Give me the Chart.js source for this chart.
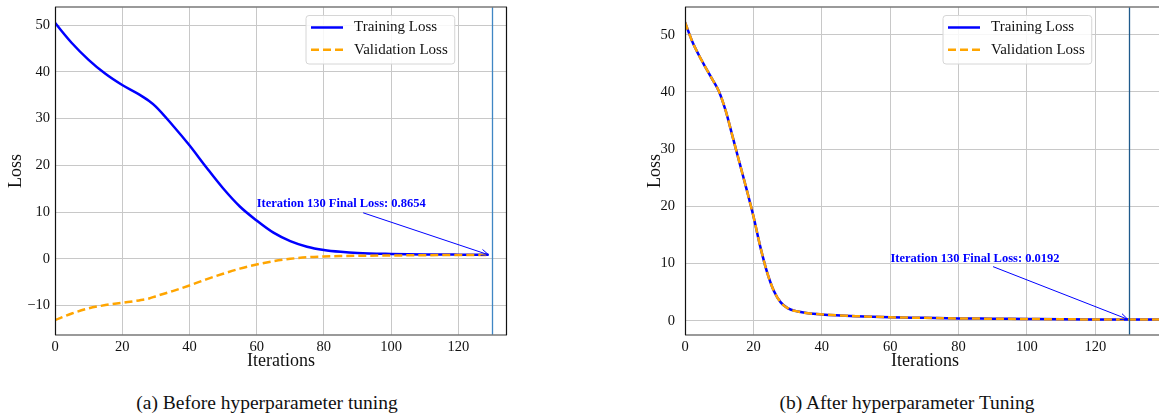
<!DOCTYPE html>
<html>
<head>
<meta charset="utf-8">
<script src="https://cdn.jsdelivr.net/npm/chart.js@4.4.0/dist/chart.umd.min.js"></script>
<style>
  body { margin: 0; width: 1159px; height: 418px; overflow: hidden; background: #fff; position: relative; font-family: 'Liberation Serif', serif; }
  canvas { display: block; }
  #wrapA { position: absolute; left: 0; top: 0; }
  #wrapB { position: absolute; left: 620px; top: 0; }
  .caption { position: absolute; top: 392px; font-size: 19.5px; line-height: 22px; color: #111; white-space: nowrap; transform: translateX(-50%); }
</style>
</head>
<body>
<div id="wrapA"><canvas id="chartA" width="540" height="380"></canvas></div>
<div id="wrapB"><canvas id="chartB" width="560" height="380"></canvas></div>
<div class="caption" style="left:267px">(a) Before hyperparameter tuning</div>
<div class="caption" style="left:907px">(b) After hyperparameter Tuning</div>
<script>
// (a) before tuning
const itersA = [0, 5, 10, 15, 20, 25, 28, 30, 35, 40, 45, 50, 55, 60, 65, 70, 75, 80, 85, 90, 100, 110, 120, 129];
const trainA = [50.5, 46.2, 42.6, 39.6, 37.2, 35.2, 33.8, 32.6, 28.6, 24.3, 19.6, 15.1, 11.2, 8.2, 5.6, 3.8, 2.6, 1.9, 1.5, 1.25, 1.05, 0.95, 0.9, 0.87];
const valA = [-13.1, -11.7, -10.6, -9.9, -9.4, -8.9, -8.5, -8.0, -6.9, -5.7, -4.4, -3.2, -2.1, -1.2, -0.5, 0.0, 0.35, 0.5, 0.6, 0.65, 0.72, 0.78, 0.82, 0.85];

// (b) after tuning
const itersB = [0, 2, 4, 6, 8, 10, 12, 14, 16, 18, 20, 22, 24, 26, 28, 30, 33, 36, 40, 50, 60, 70, 80, 90, 100, 110, 120, 130, 140];
const trainB = [52.2, 49, 46.5, 44.3, 42.2, 40, 36.5, 32, 27.5, 23, 18.3, 13, 8.5, 5.2, 3.2, 2.2, 1.6, 1.3, 1.1, 0.8, 0.6, 0.5, 0.4, 0.35, 0.3, 0.25, 0.22, 0.2, 0.19];
const valB = [52.2, 49, 46.5, 44.3, 42.2, 40, 36.5, 32, 27.5, 23, 18.3, 13, 8.5, 5.2, 3.2, 2.2, 1.6, 1.3, 1.1, 0.8, 0.6, 0.5, 0.4, 0.35, 0.3, 0.25, 0.22, 0.2, 0.19];

const xTicks = [0, 20, 40, 60, 80, 100, 120];
const yTicksA = [-10, 0, 10, 20, 30, 40, 50];
const yTicksB = [0, 10, 20, 30, 40, 50];
const finalIter = 130;
const noteA = 'Iteration 130 Final Loss: 0.8654';
const noteB = 'Iteration 130 Final Loss: 0.0192';

const FONT = "'Liberation Serif', 'Times New Roman', serif";

function pts(xs, ys) {
    return xs.map((x, i) => ({ x: x, y: ys[i] }));
}

// frame, vertical marker, annotation arrow and the legend box
const decor = {
    id: 'decor',
    afterDatasetsDraw(chart, args, o) {
        const { ctx, chartArea: a, scales } = chart;
        const sx = scales.x, sy = scales.y;
        ctx.save();

        // vertical line at final iteration
        const vx = Math.round(sx.getPixelForValue(finalIter)) + 0.5;
        ctx.strokeStyle = o.vlineColor;
        ctx.lineWidth = 1.3;
        ctx.beginPath();
        ctx.moveTo(vx, a.top);
        ctx.lineTo(vx, a.bottom);
        ctx.stroke();

        // annotation text + arrow
        ctx.fillStyle = '#0000ff';
        ctx.font = 'bold 12.5px ' + FONT;
        ctx.textBaseline = 'middle';
        ctx.textAlign = 'left';
        ctx.fillText(o.note, sx.getPixelForValue(o.noteAt[0]), sy.getPixelForValue(o.noteAt[1]));
        const x1 = sx.getPixelForValue(o.arrow[0]), y1 = sy.getPixelForValue(o.arrow[1]);
        const x2 = sx.getPixelForValue(o.arrow[2]), y2 = sy.getPixelForValue(o.arrow[3]);
        ctx.strokeStyle = '#0000ff';
        ctx.lineWidth = 1;
        ctx.beginPath();
        ctx.moveTo(x1, y1);
        ctx.lineTo(x2, y2);
        const ang = Math.atan2(y2 - y1, x2 - x1);
        const hl = 8;
        ctx.moveTo(x2 - hl * Math.cos(ang - 0.4), y2 - hl * Math.sin(ang - 0.4));
        ctx.lineTo(x2, y2);
        ctx.lineTo(x2 - hl * Math.cos(ang + 0.4), y2 - hl * Math.sin(ang + 0.4));
        ctx.stroke();

        // frame
        ctx.lineWidth = 1.6;
        ctx.strokeStyle = '#7a7a7a';
        ctx.beginPath();
        ctx.moveTo(a.left, a.top); ctx.lineTo(a.right, a.top);
        ctx.moveTo(a.left, a.bottom); ctx.lineTo(a.right, a.bottom);
        ctx.stroke();
        ctx.lineWidth = 1.2;
        ctx.strokeStyle = '#111';
        ctx.beginPath();
        ctx.moveTo(a.left + 0.5, a.top); ctx.lineTo(a.left + 0.5, a.bottom);
        ctx.moveTo(a.right - 0.5, a.top); ctx.lineTo(a.right - 0.5, a.bottom);
        ctx.stroke();

        // legend
        ctx.font = '15px ' + FONT;
        const sets = chart.data.datasets.slice(0, 2);
        const tw = Math.max(...sets.map(d => ctx.measureText(d.label).width));
        const bx = a.left + o.legendLeft, by = a.top + 8.5;
        const bw = 48 + tw + 7, bh = 48.5;
        ctx.fillStyle = 'rgba(255,255,255,0.85)';
        ctx.strokeStyle = '#d6d6d6';
        ctx.lineWidth = 1;
        ctx.beginPath();
        ctx.roundRect(bx, by, bw, bh, 3);
        ctx.fill();
        ctx.stroke();
        sets.forEach((d, i) => {
            const ly = by + 12 + i * 22.3;
            ctx.strokeStyle = d.borderColor;
            ctx.lineWidth = d.borderWidth;
            ctx.setLineDash(d.borderDash || []);
            ctx.beginPath();
            ctx.moveTo(bx + 5, ly);
            ctx.lineTo(bx + 37, ly);
            ctx.stroke();
            ctx.setLineDash([]);
            ctx.fillStyle = '#111';
            ctx.textBaseline = 'middle';
            ctx.fillText(d.label, bx + 48, ly);
        });
        ctx.restore();
    }
};

function makeChart(canvasId, iters, train, val, cfg) {
    return new Chart(document.getElementById(canvasId), {
        type: 'line',
        data: {
            datasets: [
                {
                    label: 'Training Loss',
                    data: pts(iters, train),
                    borderColor: '#0000ff',
                    borderWidth: 2.5,
                    pointRadius: 0,
                    cubicInterpolationMode: 'monotone',
                    order: 2
                },
                {
                    label: 'Validation Loss',
                    data: pts(iters, val),
                    borderColor: '#ffa500',
                    borderWidth: 2.5,
                    borderDash: [8, 4],
                    pointRadius: 0,
                    cubicInterpolationMode: 'monotone',
                    order: 1
                }
            ]
        },
        options: {
            responsive: false,
            animation: false,
            layout: { padding: { top: 7, right: cfg.padRight, bottom: 0, left: 0 } },
            plugins: {
                legend: { display: false },
                tooltip: { enabled: false },
                decor: cfg.decor
            },
            scales: {
                x: {
                    type: 'linear',
                    min: 0,
                    max: cfg.xMax,
                    afterBuildTicks: s => { s.ticks = xTicks.map(v => ({ value: v })); },
                    afterFit: s => { s.height = 45; s.paddingLeft = 0; s.paddingRight = 0; },
                    grid: { color: '#c8c8c8', lineWidth: 1, drawTicks: false },
                    border: { display: false },
                    ticks: { color: '#111', padding: 3, maxRotation: 0, font: { family: FONT, size: 14.5 } },
                    title: { display: true, text: 'Iterations', color: '#111', padding: { top: 0, bottom: 8 }, font: { family: FONT, size: 18 } }
                },
                y: {
                    min: cfg.yMin,
                    max: cfg.yMax,
                    afterBuildTicks: s => { s.ticks = cfg.yTicks.map(v => ({ value: v })); },
                    afterFit: s => { s.width = cfg.yWidth; s.paddingTop = 0; s.paddingBottom = 0; },
                    grid: { color: '#c8c8c8', lineWidth: 1, drawTicks: false },
                    border: { display: false },
                    ticks: {
                        color: '#111', padding: cfg.yTickPad, font: { family: FONT, size: 14.5 },
                        callback: v => v < 0 ? '\u2212' + Math.abs(v) : String(v)
                    },
                    title: { display: true, text: 'Loss', color: '#111', padding: { top: cfg.yTitlePad, bottom: 0 }, font: { family: FONT, size: 18 } }
                }
            }
        },
        plugins: [decor]
    });
}

makeChart('chartA', itersA, trainA, valA, {
    xMax: 134.5, yMin: -16.3, yMax: 53.9, yTicks: yTicksA,
    yWidth: 55, yTickPad: 5, yTitlePad: 5, padRight: 33,
    decor: { note: noteA, noteAt: [60, 11.8], arrow: [91.7, 9.85, 129, 0.87], vlineColor: '#3f86c4', legendLeft: 251 }
});

makeChart('chartB', itersB, trainB, valB, {
    xMax: 140.4, yMin: -2.5, yMax: 54.85, yTicks: yTicksB,
    yWidth: 65, yTickPad: 10, yTitlePad: 24, padRight: 15,
    decor: { note: noteB, noteAt: [60.1, 10.8], arrow: [90.1, 9.45, 129.5, 0.25], vlineColor: '#1f5a8c', legendLeft: 258 }
});
</script>
</body>
</html>
